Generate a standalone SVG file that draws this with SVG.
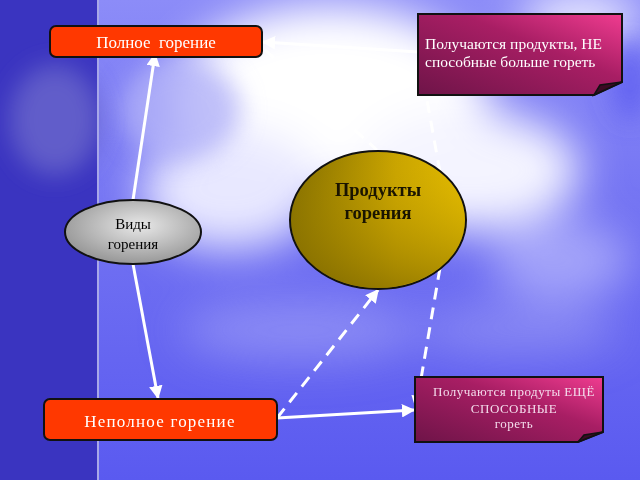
<svg xmlns="http://www.w3.org/2000/svg" width="640" height="480" viewBox="0 0 640 480">
<defs>
<style>
.conn{stroke:#fff;stroke-width:3;fill:none}
.dash{stroke-dasharray:12 8}
.t{font-family:"Liberation Serif","DejaVu Serif",serif}
</style>
<filter id="blur" x="-50%" y="-50%" width="200%" height="200%"><feGaussianBlur stdDeviation="22"/></filter>
<filter id="blur2" x="-50%" y="-50%" width="200%" height="200%"><feGaussianBlur stdDeviation="12"/></filter>
<linearGradient id="sky" x1="0" y1="0" x2="0" y2="1">
<stop offset="0" stop-color="#8c8cf8"/><stop offset="0.5" stop-color="#7070f2"/><stop offset="1" stop-color="#5a5af0"/>
</linearGradient>
<linearGradient id="gold" x1="0" y1="0" x2="1" y2="0">
<stop offset="0" stop-color="#7e6a00"/><stop offset="0.6" stop-color="#c9a400"/><stop offset="1" stop-color="#e4bc00"/>
</linearGradient>
<linearGradient id="goldv" x1="0" y1="0" x2="0" y2="1">
<stop offset="0" stop-color="#d8b000" stop-opacity="0"/><stop offset="1" stop-color="#7a6400" stop-opacity="0.6"/>
</linearGradient>
<radialGradient id="gray" cx="0.55" cy="0.4" r="0.7">
<stop offset="0" stop-color="#e8e8e8"/><stop offset="1" stop-color="#8a8a8a"/>
</radialGradient>
<linearGradient id="mag" x1="0" y1="1" x2="1" y2="0">
<stop offset="0" stop-color="#6e1448"/><stop offset="0.6" stop-color="#a81e64"/><stop offset="1" stop-color="#f03c90"/>
</linearGradient>
<marker id="ah" viewBox="0 0 10 10" refX="9" refY="5" markerWidth="4.5" markerHeight="4.5" orient="auto" markerUnits="strokeWidth">
<path d="M0,0 L10,5 L0,10 z" fill="#fff"/>
</marker>
</defs>
<g id="background">
<rect x="0" y="0" width="640" height="480" fill="url(#sky)"/>
<g filter="url(#blur)">
<ellipse cx="330" cy="100" rx="160" ry="95" fill="#ffffff"/>
<ellipse cx="470" cy="170" rx="110" ry="60" fill="#f4f4ff"/>
<ellipse cx="230" cy="190" rx="90" ry="60" fill="#e8e8ff"/>
<ellipse cx="580" cy="20" rx="60" ry="30" fill="#e8e8ff"/>
<ellipse cx="560" cy="260" rx="70" ry="40" fill="#c8c8ff" opacity="0.6"/>
<ellipse cx="300" cy="330" rx="120" ry="30" fill="#b0b0fa" opacity="0.5"/>
<ellipse cx="520" cy="330" rx="100" ry="25" fill="#a8a8f8" opacity="0.5"/>
</g>
<g filter="url(#blur2)">
<ellipse cx="180" cy="110" rx="60" ry="50" fill="#b0b0f8" opacity="0.8"/>
<ellipse cx="630" cy="80" rx="20" ry="40" fill="#5a5af0" opacity="0.7"/>
</g>
<rect x="0" y="0" width="97" height="480" fill="#3a34c0"/>
<g filter="url(#blur2)">
<ellipse cx="55" cy="120" rx="45" ry="55" fill="#6a68cc" opacity="0.8"/>
</g>
<rect x="97" y="0" width="2" height="480" fill="#a8a8e8"/>
</g>
<g id="connectors">
<line class="conn" x1="133" y1="200" x2="155" y2="54" marker-end="url(#ah)"/>
<line class="conn" x1="133" y1="264" x2="158" y2="398" marker-end="url(#ah)"/>
<line class="conn" x1="418" y1="52" x2="263" y2="42" marker-end="url(#ah)"/>
<line class="conn dash" x1="265" y1="50" x2="377" y2="150"/>
<line class="conn dash" x1="440" y1="172" x2="419" y2="56" marker-end="url(#ah)"/>
<line class="conn dash" x1="440" y1="268" x2="416" y2="408" marker-end="url(#ah)"/>
<line class="conn dash" x1="277" y1="418" x2="378" y2="290" marker-end="url(#ah)"/>
<line class="conn" x1="277" y1="418" x2="414" y2="410" marker-end="url(#ah)"/>
</g>
<g id="full">
<rect x="50" y="26" width="212" height="31" rx="6" fill="#ff3800" stroke="#111" stroke-width="2"/>
<text class="t" x="156" y="48" font-size="17" fill="#fff" text-anchor="middle" xml:space="preserve">Полное  горение</text>
</g>
<g id="incomplete">
<rect x="44" y="399" width="233" height="41" rx="6" fill="#ff3800" stroke="#111" stroke-width="2"/>
<text class="t" x="160" y="427" font-size="17" letter-spacing="1.2" fill="#fff" text-anchor="middle">Неполное горение</text>
</g>
<g id="types">
<ellipse cx="133" cy="232" rx="68" ry="32" fill="url(#gray)" stroke="#111" stroke-width="2"/>
<text class="t" x="133" y="229" font-size="15" fill="#000" text-anchor="middle">Виды</text>
<text class="t" x="133" y="249" font-size="15" fill="#000" text-anchor="middle">горения</text>
</g>
<g id="products">
<ellipse cx="378" cy="220" rx="88" ry="69" fill="url(#gold)" stroke="#111" stroke-width="2"/>
<ellipse cx="378" cy="220" rx="87" ry="68" fill="url(#goldv)"/>
<text class="t" x="378" y="196" font-size="18.5" font-weight="bold" fill="#1a1400" text-anchor="middle">Продукты</text>
<text class="t" x="378" y="219" font-size="18.5" font-weight="bold" fill="#1a1400" text-anchor="middle">горения</text>
</g>
<g id="box1">
<path d="M418,14 H622 V82 L594,95 H418 Z" fill="url(#mag)" stroke="#111" stroke-width="2"/>
<path d="M594,95 L600,85 L622,82 Z" fill="#3a0a24" stroke="#111" stroke-width="1.5"/>
<text class="t" x="425" y="49" font-size="15.5" fill="#fff">Получаются продукты, НЕ</text>
<text class="t" x="425" y="67" font-size="15.5" fill="#fff">способные больше гореть</text>
</g>
<g id="box2">
<path d="M415,377 H603 V432 L578,442 H415 Z" fill="url(#mag)" stroke="#111" stroke-width="2"/>
<path d="M578,442 L584,435 L603,432 Z" fill="#3a0a24" stroke="#111" stroke-width="1.5"/>
<text class="t" x="514" y="396" font-size="13" letter-spacing="0.5" fill="#f4dcec" text-anchor="middle">Получаются продуты ЕЩЁ</text>
<text class="t" x="514" y="413" font-size="13" letter-spacing="0.5" fill="#f4dcec" text-anchor="middle">СПОСОБНЫЕ</text>
<text class="t" x="514" y="428" font-size="13" letter-spacing="0.5" fill="#f4dcec" text-anchor="middle">гореть</text>
</g>
</svg>
